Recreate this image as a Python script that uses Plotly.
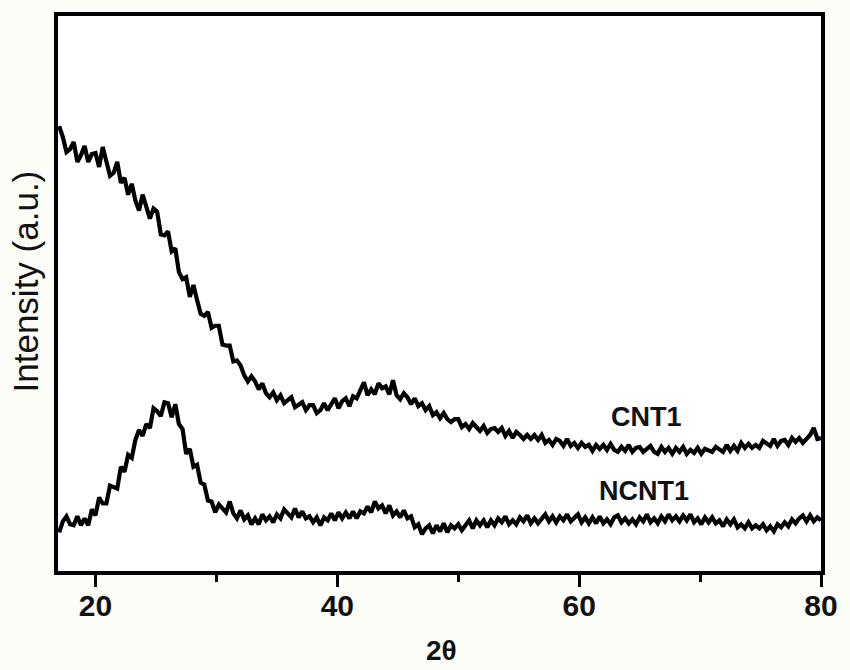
import plotly.graph_objects as go

# 2-theta sampling grid (degrees), 0.3 deg step from 17.0 to 80.0
START_2THETA = 17.0
STEP_2THETA = 0.3
N_POINTS = 211
two_theta = [round(START_2THETA + STEP_2THETA * i, 2) for i in range(N_POINTS)]

# Intensities (arbitrary units)
cnt1 = [
    448, 437, 422, 425, 432, 412, 419, 428, 412, 420,
    421, 407, 427, 413, 398, 401, 412, 391, 396, 379,
    390, 373, 363, 379, 367, 355, 365, 362, 339, 338,
    342, 322, 325, 301, 294, 296, 276, 288, 273, 259,
    257, 261, 245, 247, 247, 228, 227, 227, 211, 212,
    207, 197, 191, 196, 191, 183, 189, 179, 175, 180,
    172, 177, 169, 172, 175, 165, 167, 170, 162, 167,
    167, 159, 162, 169, 162, 168, 174, 164, 171, 174,
    166, 176, 174, 182, 190, 177, 183, 178, 189, 184,
    186, 178, 192, 177, 173, 179, 175, 168, 174, 166,
    169, 162, 166, 157, 160, 154, 159, 153, 150, 153,
    153, 145, 148, 143, 149, 145, 141, 146, 139, 143,
    144, 140, 144, 136, 141, 134, 140, 137, 133, 137,
    133, 137, 132, 137, 129, 132, 127, 133, 131, 126,
    133, 126, 129, 124, 129, 125, 127, 121, 127, 123,
    127, 122, 128, 122, 120, 125, 121, 127, 120, 124,
    125, 120, 123, 126, 120, 118, 125, 120, 124, 118,
    124, 120, 125, 118, 122, 119, 124, 118, 123, 122,
    120, 125, 123, 120, 127, 121, 126, 121, 129, 124,
    128, 124, 127, 124, 131, 129, 126, 133, 126, 131,
    132, 127, 134, 130, 134, 129, 133, 137, 144, 133,
    134,
]

ncnt1 = [
    39, 50, 55, 47, 46, 55, 46, 53, 46, 62,
    56, 74, 68, 68, 86, 85, 83, 105, 100, 117,
    114, 132, 142, 136, 148, 144, 164, 161, 156, 170,
    169, 155, 168, 148, 143, 118, 123, 105, 107, 89,
    87, 71, 70, 59, 67, 63, 59, 70, 58, 53,
    61, 52, 56, 47, 53, 47, 57, 51, 55, 49,
    57, 53, 62, 58, 54, 63, 54, 60, 53, 55,
    49, 54, 46, 54, 51, 58, 51, 59, 53, 59,
    53, 60, 53, 60, 58, 65, 59, 70, 63, 66,
    58, 66, 56, 60, 54, 61, 53, 55, 44, 47,
    37, 43, 46, 38, 46, 40, 48, 39, 46, 43,
    47, 41, 47, 51, 43, 51, 46, 51, 44, 51,
    46, 53, 49, 55, 47, 51, 47, 54, 50, 56,
    48, 53, 48, 53, 57, 50, 55, 49, 55, 51,
    57, 50, 54, 57, 49, 54, 48, 54, 48, 55,
    48, 52, 47, 54, 56, 49, 53, 48, 52, 47,
    54, 50, 57, 49, 53, 48, 55, 50, 57, 51,
    55, 50, 56, 51, 57, 49, 53, 47, 54, 49,
    54, 48, 51, 45, 52, 47, 52, 44, 47, 43,
    49, 43, 46, 43, 47, 41, 45, 40, 47, 44,
    49, 45, 52, 48, 53, 56, 50, 56, 50, 54,
    51,
]

series_names = ["CNT1", "NCNT1"]
label_positions = {"CNT1": (65.6, 155), "NCNT1": (65.4, 81)}

x_ticks = [20, 40, 60, 80]
x_minor = [30, 50, 70]
x_range = [16.9, 80]
y_range = [0, 559]

FONT = "Liberation Sans, Arial, sans-serif"

fig = go.Figure()
for name, vals in zip(series_names, [cnt1, ncnt1]):
    fig.add_trace(go.Scatter(
        x=two_theta, y=vals, mode="lines", name=name,
        line=dict(color="black", width=4.2),
        showlegend=False,
    ))

for name in series_names:
    lx, ly = label_positions[name]
    fig.add_annotation(
        x=lx, y=ly, text=name, showarrow=False,
        font=dict(family=FONT, size=27, color="#111111", weight="bold"),
    )

# axis titles as annotations so they sit exactly where they are in the picture
fig.add_annotation(
    xref="paper", yref="paper", x=-0.043, y=0.522,
    xanchor="center", yanchor="middle",
    text="Intensity (a.u.)", textangle=-90, showarrow=False,
    font=dict(family=FONT, size=35, color="#111111"),
)
fig.add_annotation(
    xref="paper", yref="paper", x=0.503, y=-0.1735,
    xanchor="center", yanchor="bottom", borderpad=0,
    text="2θ", showarrow=False,
    font=dict(family=FONT, size=28, color="#111111", weight="bold"),
)

fig.update_layout(
    width=850, height=670,
    margin=dict(l=58, r=19, t=12, b=99),
    paper_bgcolor="#fdfdf8",
    plot_bgcolor="white",
    font=dict(family=FONT, color="black"),
)

fig.update_xaxes(
    range=x_range,
    tickvals=x_ticks,
    ticktext=[str(t) for t in x_ticks],
    ticks="outside", ticklen=12, tickwidth=3, tickcolor="black",
    minor=dict(tickvals=x_minor, ticks="outside", ticklen=7, tickwidth=3, tickcolor="black"),
    showline=True, linewidth=3.5, linecolor="black", mirror=True,
    showgrid=False, zeroline=False,
    ticklabelstandoff=-7,
    tickfont=dict(size=30, weight="bold", color="#111111"),
)

fig.update_yaxes(
    range=y_range,
    showticklabels=False, ticks="",
    showline=True, linewidth=3.5, linecolor="black", mirror=True,
    showgrid=False, zeroline=False,
)

fig.write_html("out.html")
